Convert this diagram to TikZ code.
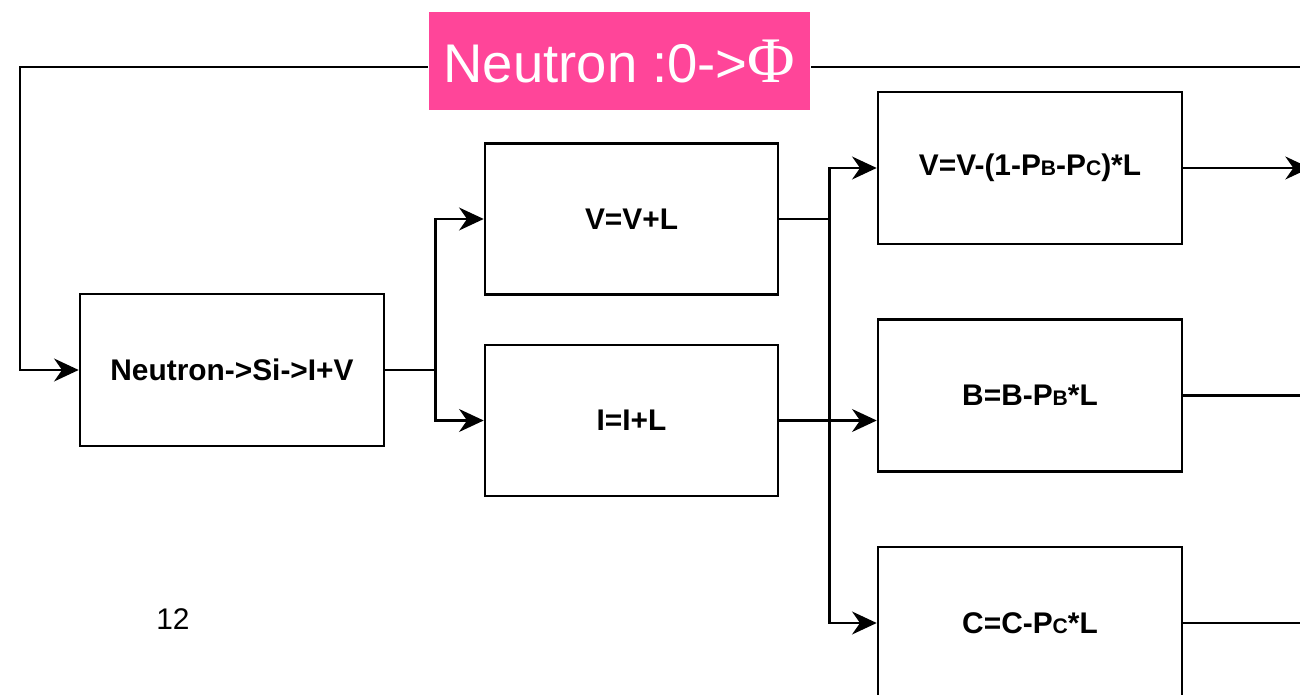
\documentclass[tikz,border=0pt]{standalone}
\usepackage{fontspec}
\setmainfont{Liberation Sans}
\newfontfamily\phifont{Liberation Serif}
\usetikzlibrary{arrows.meta, positioning, calc}
\definecolor{HotPink}{rgb}{1.00, 0.27, 0.60}
\newcommand{\sml}[1]{{\fontsize{12}{12}\selectfont #1}}

\tikzset{
    calc box/.style={draw, line width=1.5pt, inner sep=0pt, font=\bfseries\fontsize{17}{20}\selectfont},
    wide box/.style={calc box, minimum width=6.08cm, minimum height=3.04cm},
    mid box/.style={calc box, minimum width=5.86cm, minimum height=3.02cm},
}

\begin{document}
\begin{tikzpicture}[x=0.02cm, y=-0.02cm, >={Stealth[length=14pt, width=13pt, inset=4.5pt]}, line width=1.5pt]
        \useasboundingbox (0,0) rectangle (1300,695);
        \clip (0,0) rectangle (1300,695);
        \fill [white] (0,0) rectangle (1300,695);

        % Boxes
        \node [wide box] (neu) at (232,370) {Neutron->Si->I+V};
        \node [mid box] (vv) at (631.5,219) {V=V+L};
        \node [mid box] (ii) at (631.5,420.5) {I=I+L};
        \node [wide box] (vn) at (1030,168) {V=V-(1-P\sml{B}-P\sml{C})*L};
        \node [wide box] (bb) at (1030,395.5) {B=B-P\sml{B}*L};
        \node [wide box] (cc) at (1030,623) {C=C-P\sml{C}*L};

        % Label on the feedback line
        \node [fill=HotPink, text=white, inner sep=0pt, minimum width=7.62cm, minimum height=1.96cm,
               font=\fontsize{31}{34}\selectfont] (lbl) at (619.5,61) {Neutron :0->{\phifont\fontsize{37}{38}\selectfont Φ}};

        \node [font=\fontsize{17}{20}\selectfont] (num) at (173,619) {12};

        % Helper points
        \coordinate (fb) at (20,67);
        \coordinate (rim) at (1310,0);

        % Feedback loop
        \draw [->] (fb -| lbl.west) -- (fb) |- (neu.west);
        \draw (fb -| lbl.east) -- (fb -| rim);

        % Splits
        \draw [->] (neu.east) -- ++(50,0) |- (vv.west);
        \draw [->] (neu.east) -- ++(50,0) |- (ii.west);
        \draw [->] (vv.east) -- ++(50,0) |- (vn.west);
        \draw [->] (vv.east) -- ++(50,0) |- (cc.west);
        \draw [->] (ii.east) -- (ii.east -| bb.west);

        % Outputs
        \draw [->] (vn.east) -- (vn.east -| rim);
        \draw (bb.east) -- (bb.east -| rim);
        \draw (cc.east) -- (cc.east -| rim);
    \end{tikzpicture}
\end{document}
